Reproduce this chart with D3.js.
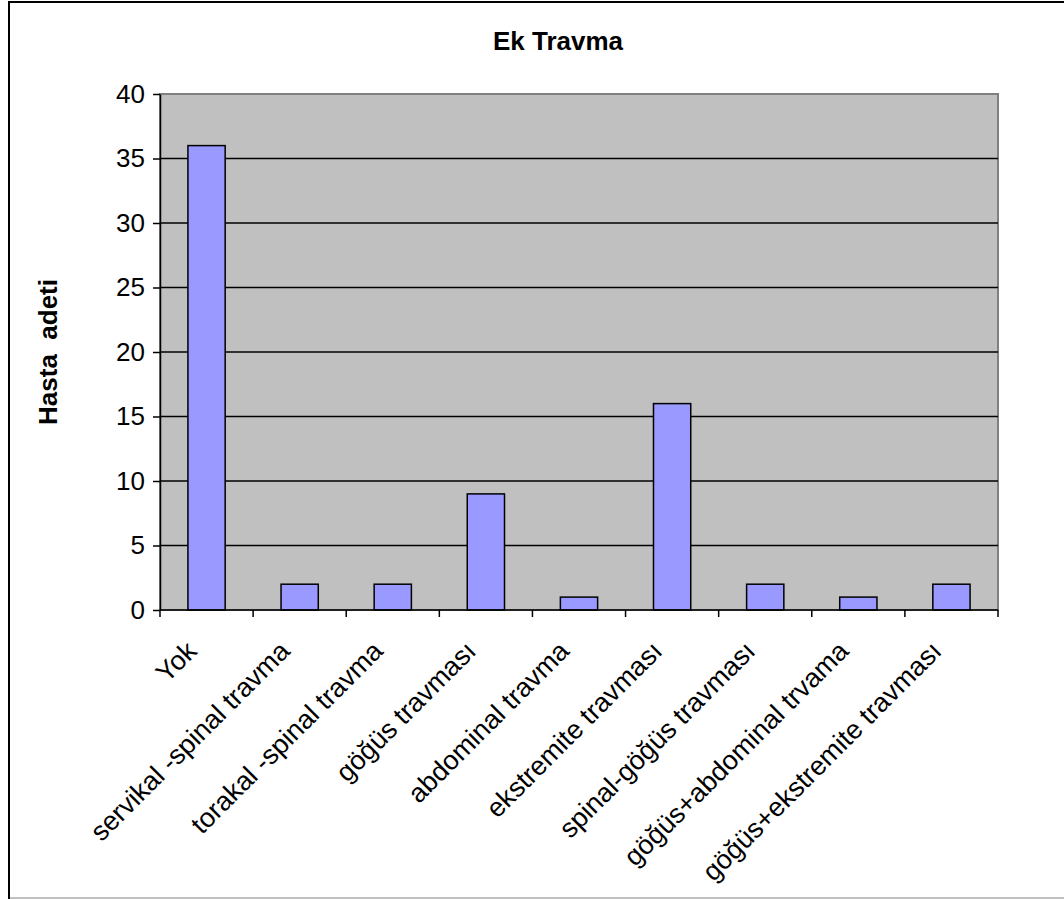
<!DOCTYPE html>
<html>
<head>
<meta charset="utf-8">
<script src="https://cdn.jsdelivr.net/npm/d3@7"></script>
<style>
  body { margin: 0; background: #fff; }
  text { font-family: Arial, "Liberation Sans", sans-serif; }
</style>
</head>
<body>
<div id="chart"></div>
<script>
// chart data
var categories = ["Yok", "servikal -spinal travma", "torakal -spinal travma", "göğüs travması",
    "abdominal travma", "ekstremite travması", "spinal-göğüs travması", "göğüs+abdominal trvama",
    "göğüs+ekstremite travması"];
var counts = [36, 2, 2, 9, 1, 16, 2, 1, 2];
var yTicks = [0, 5, 10, 15, 20, 25, 30, 35, 40];

var width = 1064;
var height = 899;

var margin = {
    top: 94,
    right: 66,
    bottom: 289,
    left: 160
};

var svg = d3.select("#chart").append("svg")
    .attr("width", width)
    .attr("height", height);

// outer chart frame
svg.append("rect")
    .attr("x", 9)
    .attr("y", 2)
    .attr("width", 1070)
    .attr("height", 896)
    .attr("fill", "#fff")
    .attr("stroke", "#000")
    .attr("stroke-width", 2);
svg.append("line")
    .attr("x1", 10).attr("x2", width)
    .attr("y1", 898).attr("y2", 898)
    .attr("stroke", "#c0c0c0")
    .attr("stroke-width", 2);

var band = d3.scaleBand()
    .domain(categories)
    .range([margin.left, width - margin.right]);

var y = d3.scaleLinear()
    .domain([0, 40])
    .range([height - margin.bottom, margin.top]);

// plot area
svg.append("rect")
    .attr("x", margin.left)
    .attr("y", margin.top)
    .attr("width", width - margin.right - margin.left)
    .attr("height", y(0) - margin.top)
    .attr("fill", "#c0c0c0")
    .attr("stroke", "#808080")
    .attr("stroke-width", 2);

// gridlines
svg.append("g")
    .selectAll("line")
    .data(yTicks.filter(d => d > 0 && d < 40))
    .enter()
    .append("line")
    .attr("x1", margin.left)
    .attr("x2", width - margin.right)
    .attr("y1", d => y(d))
    .attr("y2", d => y(d))
    .attr("stroke", "#000")
    .attr("stroke-width", 1.5);

// bars
svg.append("g")
    .selectAll("rect")
    .data(counts)
    .enter()
    .append("rect")
    .attr("x", (d, i) => band(categories[i]) + band.bandwidth() * 0.3)
    .attr("y", d => y(d))
    .attr("width", band.bandwidth() * 0.4)
    .attr("height", d => y(0) - y(d))
    .attr("fill", "#9999ff")
    .attr("stroke", "#000")
    .attr("stroke-width", 1.5);

// y axis
var yAxis = g => g
    .attr("transform", `translate(${margin.left},0)`)
    .call(d3.axisLeft(y).tickValues(yTicks).tickSize(7).tickPadding(8).tickSizeOuter(0))
    .call(g => g.selectAll("line").attr("stroke", "#000").attr("stroke-width", 1.5))
    .call(g => g.select(".domain").attr("stroke", "#000").attr("stroke-width", 1.5))
    .call(g => g.selectAll("text")
        .attr("fill", "#000")
        .style("font-size", "26px")
        .style("font-family", "Arial, 'Liberation Sans', sans-serif"));

svg.append("g").attr("class", "y-axis").call(yAxis);

// x axis: ticks between categories
var xAxisG = svg.append("g").attr("class", "x-axis");
xAxisG.append("line")
    .attr("x1", margin.left)
    .attr("x2", width - margin.right)
    .attr("y1", y(0))
    .attr("y2", y(0))
    .attr("stroke", "#000")
    .attr("stroke-width", 1.5);
xAxisG.selectAll(".tick")
    .data(categories.concat(["end"]))
    .enter()
    .append("line")
    .attr("x1", (d, i) => margin.left + i * band.bandwidth())
    .attr("x2", (d, i) => margin.left + i * band.bandwidth())
    .attr("y1", y(0))
    .attr("y2", y(0) + 7)
    .attr("stroke", "#000")
    .attr("stroke-width", 1.5);

xAxisG.selectAll("text")
    .data(categories)
    .enter()
    .append("text")
    .attr("transform", d => `translate(${band(d) + band.bandwidth() / 2 - 15},${y(0) + 36}) rotate(-45)`)
    .attr("text-anchor", "end")
    .attr("dy", "0.35em")
    .style("font-size", "27px")
    .text(d => d);

// titles
svg.append("text")
    .attr("x", 558)
    .attr("y", 50)
    .attr("text-anchor", "middle")
    .style("font-size", "26px")
    .style("font-weight", "bold")
    .text("Ek Travma");

svg.append("text")
    .attr("transform", "translate(57,352) rotate(-90)")
    .attr("text-anchor", "middle")
    .style("font-size", "26px")
    .style("font-weight", "bold")
    .style("white-space", "pre")
    .text("Hasta  adeti");
</script>
</body>
</html>
